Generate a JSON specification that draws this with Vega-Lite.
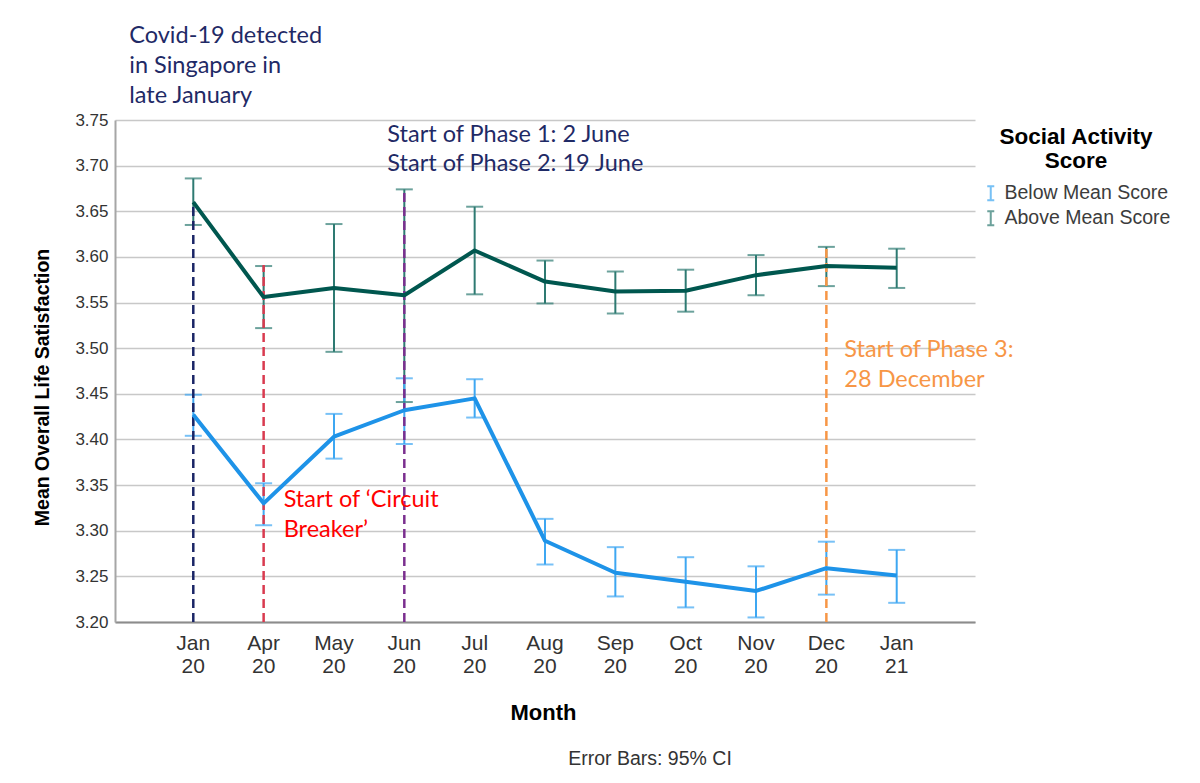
{
  "$schema": "https://vega.github.io/schema/vega-lite/v6.json",
  "autosize": {"type": "none"},
  "width": 860,
  "height": 502,
  "padding": {"left": 115, "top": 120, "right": 225, "bottom": 161},
  "background": "white",
  "config": {"view": {"stroke": null}},
  "title": {"text": "Error Bars: 95% CI", "orient": "bottom", "anchor": "middle", "dx": 105, "offset": 27, "font": "Liberation Sans", "fontSize": 19.5, "fontWeight": "normal", "color": "#333333"},
  "datasets": {
    "stats": [
      {"month": "Jan 20", "group": "Above Mean Score", "mean": 3.660, "lo": 3.635, "hi": 3.686},
      {"month": "Apr 20", "group": "Above Mean Score", "mean": 3.556, "lo": 3.522, "hi": 3.590},
      {"month": "May 20", "group": "Above Mean Score", "mean": 3.566, "lo": 3.496, "hi": 3.636},
      {"month": "Jun 20", "group": "Above Mean Score", "mean": 3.558, "lo": 3.441, "hi": 3.674},
      {"month": "Jul 20", "group": "Above Mean Score", "mean": 3.607, "lo": 3.559, "hi": 3.655},
      {"month": "Aug 20", "group": "Above Mean Score", "mean": 3.573, "lo": 3.549, "hi": 3.596},
      {"month": "Sep 20", "group": "Above Mean Score", "mean": 3.562, "lo": 3.538, "hi": 3.584},
      {"month": "Oct 20", "group": "Above Mean Score", "mean": 3.563, "lo": 3.540, "hi": 3.586},
      {"month": "Nov 20", "group": "Above Mean Score", "mean": 3.580, "lo": 3.558, "hi": 3.602},
      {"month": "Dec 20", "group": "Above Mean Score", "mean": 3.590, "lo": 3.568, "hi": 3.611},
      {"month": "Jan 21", "group": "Above Mean Score", "mean": 3.588, "lo": 3.566, "hi": 3.609},
      {"month": "Jan 20", "group": "Below Mean Score", "mean": 3.427, "lo": 3.404, "hi": 3.449},
      {"month": "Apr 20", "group": "Below Mean Score", "mean": 3.330, "lo": 3.306, "hi": 3.352},
      {"month": "May 20", "group": "Below Mean Score", "mean": 3.403, "lo": 3.379, "hi": 3.428},
      {"month": "Jun 20", "group": "Below Mean Score", "mean": 3.432, "lo": 3.395, "hi": 3.467},
      {"month": "Jul 20", "group": "Below Mean Score", "mean": 3.445, "lo": 3.424, "hi": 3.466},
      {"month": "Aug 20", "group": "Below Mean Score", "mean": 3.289, "lo": 3.263, "hi": 3.313},
      {"month": "Sep 20", "group": "Below Mean Score", "mean": 3.254, "lo": 3.228, "hi": 3.282},
      {"month": "Oct 20", "group": "Below Mean Score", "mean": 3.244, "lo": 3.216, "hi": 3.271},
      {"month": "Nov 20", "group": "Below Mean Score", "mean": 3.234, "lo": 3.205, "hi": 3.261},
      {"month": "Dec 20", "group": "Below Mean Score", "mean": 3.259, "lo": 3.230, "hi": 3.288},
      {"month": "Jan 21", "group": "Below Mean Score", "mean": 3.251, "lo": 3.221, "hi": 3.279}
    ],
    "events": [
      {"month": "Jan 20", "base": 3.2, "top": 3.656, "event": "covid"},
      {"month": "Apr 20", "base": 3.2, "top": 3.591, "event": "cb"},
      {"month": "Jun 20", "base": 3.2, "top": 3.674, "event": "phase"},
      {"month": "Dec 20", "base": 3.2, "top": 3.613, "event": "phase3"}
    ],
    "notes": [
      {"month": "Jan 20", "y": 3.834, "note": "Covid-19 detected\nin Singapore in\nlate January", "event": "covid"},
      {"month": "Jun 20", "y": 3.726, "note": "Start of Phase 1: 2 June\nStart of Phase 2: 19 June", "event": "phase"},
      {"month": "Apr 20", "y": 3.326, "note": "Start of ‘Circuit\nBreaker’", "event": "cb"},
      {"month": "Dec 20", "y": 3.490, "note": "Start of Phase 3:\n28 December", "event": "phase3"}
    ]
  },
  "layer": [
    {
      "data": {"name": "stats"},
      "mark": {"type": "rule", "strokeWidth": 2},
      "encoding": {
        "x": {
          "field": "month", "type": "ordinal",
          "sort": ["Jan 20", "Apr 20", "May 20", "Jun 20", "Jul 20", "Aug 20", "Sep 20", "Oct 20", "Nov 20", "Dec 20", "Jan 21"],
          "scale": {"type": "band", "paddingInner": 0, "paddingOuter": 0.613},
          "axis": {
            "title": "Month", "labelAngle": 0, "labelExpr": "split(datum.label, ' ')",
            "labelFont": "Liberation Sans", "labelFontSize": 21, "labelLineHeight": 23, "labelColor": "#333333",
            "labelPadding": 10, "labelBaseline": "top", "ticks": false, "grid": false,
            "domainColor": "#8c8c8c", "domainWidth": 2,
            "titleFont": "Liberation Sans", "titleFontSize": 22, "titleFontWeight": "bold", "titleColor": "#000000", "titlePadding": 26, "titleX": 428
          }
        },
        "y": {"field": "lo", "type": "quantitative",
          "scale": {"domain": [3.2, 3.75], "nice": false, "zero": false},
          "axis": {
            "title": "Mean Overall Life Satisfaction", "values": [3.2, 3.25, 3.3, 3.35, 3.4, 3.45, 3.5, 3.55, 3.6, 3.65, 3.7, 3.75],
            "format": ".2f", "labelFont": "Liberation Sans", "labelFontSize": 17, "labelColor": "#333333", "labelPadding": 7,
            "ticks": false, "domainColor": "#a6a6a6", "domainWidth": 2,
            "grid": true, "gridColor": "#c8c8c8", "gridWidth": 1.5,
            "titleFont": "Liberation Sans", "titleFontSize": 19.5, "titleFontWeight": "bold", "titleColor": "#000000",
            "titlePadding": 22, "titleY": 267
          }
        },
        "y2": {"field": "hi"},
        "color": {"field": "group", "type": "nominal",
          "scale": {"domain": ["Below Mean Score", "Above Mean Score"], "range": ["#3ea7f2", "#2e7a72"]},
          "legend": {
            "title": ["Social Activity", "Score"], "orient": "none", "legendX": 866, "legendY": 6,
            "titleFont": "Liberation Sans", "titleFontSize": 22.5, "titleFontWeight": "bold", "titleColor": "#000000",
            "titleAlign": "center", "titleAnchor": "middle", "titleLineHeight": 24, "titlePadding": 11, "titleLimit": 400,
            "labelFont": "Liberation Sans", "labelFontSize": 19.5, "labelColor": "#3c3c3c", "labelOffset": 4, "labelLimit": 400,
            "symbolType": "M-0.5,-1H0.5M0,-1V1M-0.5,1H0.5", "symbolSize": 196, "symbolStrokeWidth": 2, "rowPadding": 2
          }
        }
      }
    },
    {
      "data": {"name": "stats"},
      "mark": {"type": "tick", "size": 17, "thickness": 2},
      "encoding": {
        "x": {"field": "month", "type": "ordinal", "sort": ["Jan 20", "Apr 20", "May 20", "Jun 20", "Jul 20", "Aug 20", "Sep 20", "Oct 20", "Nov 20", "Dec 20", "Jan 21"]},
        "y": {"field": "lo", "type": "quantitative"},
        "color": {"field": "group", "type": "nominal"}
      }
    },
    {
      "data": {"name": "stats"},
      "mark": {"type": "tick", "size": 17, "thickness": 2},
      "encoding": {
        "x": {"field": "month", "type": "ordinal", "sort": ["Jan 20", "Apr 20", "May 20", "Jun 20", "Jul 20", "Aug 20", "Sep 20", "Oct 20", "Nov 20", "Dec 20", "Jan 21"]},
        "y": {"field": "hi", "type": "quantitative"},
        "color": {"field": "group", "type": "nominal"}
      }
    },
    {
      "data": {"name": "events"},
      "mark": {"type": "rule", "strokeWidth": 2.5, "strokeDash": [9, 5]},
      "encoding": {
        "x": {"field": "month", "type": "ordinal", "sort": ["Jan 20", "Apr 20", "May 20", "Jun 20", "Jul 20", "Aug 20", "Sep 20", "Oct 20", "Nov 20", "Dec 20", "Jan 21"]},
        "y": {"field": "base", "type": "quantitative"},
        "y2": {"field": "top"},
        "stroke": {"field": "event", "type": "nominal", "legend": null,
          "scale": {"domain": ["covid", "cb", "phase", "phase3", "Below Mean Score", "Above Mean Score"],
                    "range": ["#1a2566", "#d93a4f", "#7b2f8f", "#f79646", "#1e93e8", "#00574f"]}}
      }
    },
    {
      "data": {"name": "stats"},
      "mark": {"type": "line", "strokeWidth": 4, "strokeJoin": "round"},
      "encoding": {
        "x": {"field": "month", "type": "ordinal", "sort": ["Jan 20", "Apr 20", "May 20", "Jun 20", "Jul 20", "Aug 20", "Sep 20", "Oct 20", "Nov 20", "Dec 20", "Jan 21"]},
        "y": {"field": "mean", "type": "quantitative"},
        "stroke": {"field": "group", "type": "nominal", "legend": null}
      }
    },
    {
      "data": {"name": "notes"},
      "transform": [{"filter": "datum.event == 'covid'"}],
      "mark": {"type": "text", "align": "left", "baseline": "alphabetic", "dx": -64, "font": "Lato", "fontSize": 23.5, "lineBreak": "\n", "lineHeight": 30, "color": "#1f2a66"},
      "encoding": {"x": {"field": "month", "type": "ordinal", "sort": ["Jan 20", "Apr 20", "May 20", "Jun 20", "Jul 20", "Aug 20", "Sep 20", "Oct 20", "Nov 20", "Dec 20", "Jan 21"]}, "y": {"field": "y", "type": "quantitative"}, "text": {"field": "note", "type": "nominal"}}
    },
    {
      "data": {"name": "notes"},
      "transform": [{"filter": "datum.event == 'phase'"}],
      "mark": {"type": "text", "align": "left", "baseline": "alphabetic", "dx": -17, "font": "Lato", "fontSize": 23.5, "lineBreak": "\n", "lineHeight": 29, "color": "#1f2a66"},
      "encoding": {"x": {"field": "month", "type": "ordinal", "sort": ["Jan 20", "Apr 20", "May 20", "Jun 20", "Jul 20", "Aug 20", "Sep 20", "Oct 20", "Nov 20", "Dec 20", "Jan 21"]}, "y": {"field": "y", "type": "quantitative"}, "text": {"field": "note", "type": "nominal"}}
    },
    {
      "data": {"name": "notes"},
      "transform": [{"filter": "datum.event == 'cb'"}],
      "mark": {"type": "text", "align": "left", "baseline": "alphabetic", "dx": 20, "font": "Lato", "fontSize": 23.5, "lineBreak": "\n", "lineHeight": 30, "color": "#ff0000"},
      "encoding": {"x": {"field": "month", "type": "ordinal", "sort": ["Jan 20", "Apr 20", "May 20", "Jun 20", "Jul 20", "Aug 20", "Sep 20", "Oct 20", "Nov 20", "Dec 20", "Jan 21"]}, "y": {"field": "y", "type": "quantitative"}, "text": {"field": "note", "type": "nominal"}}
    },
    {
      "data": {"name": "notes"},
      "transform": [{"filter": "datum.event == 'phase3'"}],
      "mark": {"type": "text", "align": "left", "baseline": "alphabetic", "dx": 18, "font": "Lato", "fontSize": 23.5, "lineBreak": "\n", "lineHeight": 30, "color": "#f79646"},
      "encoding": {"x": {"field": "month", "type": "ordinal", "sort": ["Jan 20", "Apr 20", "May 20", "Jun 20", "Jul 20", "Aug 20", "Sep 20", "Oct 20", "Nov 20", "Dec 20", "Jan 21"]}, "y": {"field": "y", "type": "quantitative"}, "text": {"field": "note", "type": "nominal"}}
    }
  ]
}
